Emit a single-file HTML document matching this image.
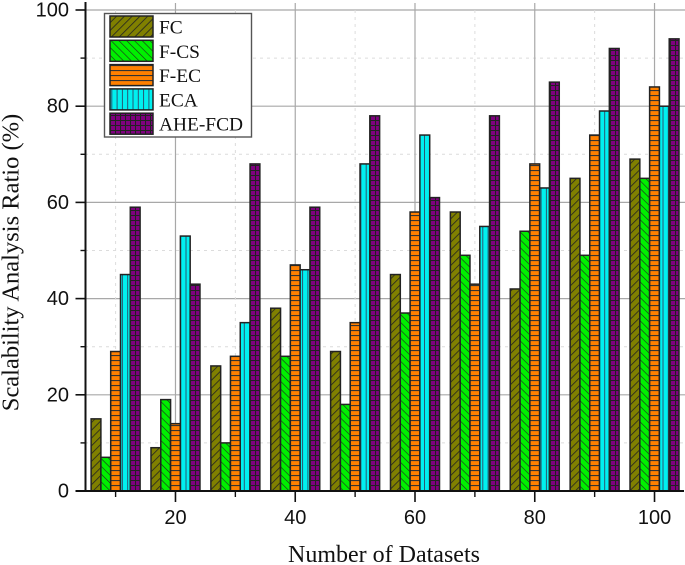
<!DOCTYPE html>
<html>
<head>
<meta charset="utf-8">
<style>
html,body{margin:0;padding:0;background:#fff;width:685px;height:565px;overflow:hidden}
svg{display:block}
</style>
</head>
<body>
<svg id="chart" xmlns="http://www.w3.org/2000/svg" width="685" height="565" viewBox="0 0 685 565">
<defs>
<pattern id="p-fc" patternUnits="userSpaceOnUse" width="5.5" height="5.5" patternTransform="rotate(45)">
<rect width="5.5" height="5.5" fill="#808000"/><line x1="0" y1="0" x2="0" y2="5.5" stroke="#222" stroke-width="1.6"/>
</pattern>
<pattern id="p-cs" patternUnits="userSpaceOnUse" width="5.5" height="5.5" patternTransform="rotate(-45)">
<rect width="5.5" height="5.5" fill="#00f000"/><line x1="0" y1="0" x2="0" y2="5.5" stroke="#222" stroke-width="1.2"/>
</pattern>
<pattern id="p-ec" patternUnits="userSpaceOnUse" width="5" height="5">
<rect width="5" height="5" fill="#ff8000"/><line x1="0" y1="0.5" x2="5" y2="0.5" stroke="#333" stroke-width="1.2"/>
</pattern>
<pattern id="p-eca" patternUnits="userSpaceOnUse" width="5.3" height="6">
<rect width="5.3" height="6" fill="#00f0f0"/><line x1="0.5" y1="0" x2="0.5" y2="6" stroke="#335" stroke-width="0.8"/>
</pattern>
<pattern id="p-ahe" patternUnits="userSpaceOnUse" width="5" height="5">
<rect width="5" height="5" fill="#800080"/><path d="M0 .5H5M.5 0V5" stroke="#222" stroke-width="1.1" fill="none"/>
</pattern>
</defs>
<g id="grid"></g>
<g id="bars"></g>
<g id="axes"></g>
<text transform="translate(18.5,262.5) rotate(-90)" text-anchor="middle" font-family="'Liberation Serif',serif" font-size="24.5" fill="#111">Scalability Analysis Ratio (%)</text>
<text x="384" y="562" text-anchor="middle" font-family="'Liberation Serif',serif" font-size="24" fill="#111">Number of Datasets</text>
<g id="legend">
<rect x="104.5" y="13.5" width="147" height="123.5" fill="#fff" stroke="#555" stroke-width="1.4"/>
</g>
</svg>
<script>
const categories = [10, 20, 30, 40, 50, 60, 70, 80, 90, 100];
const seriesNames = ['FC', 'F-CS', 'F-EC', 'ECA', 'AHE-FCD'];
const fcValues = [15, 9, 26, 38, 29, 45, 58, 42, 65, 69];
const fcsValues = [7, 19, 10, 28, 18, 37, 49, 54, 49, 65];
const fecValues = [29, 14, 28, 47, 35, 58, 43, 68, 74, 84];
const ecaValues = [45, 53, 35, 46, 68, 74, 55, 63, 79, 80];
const aheValues = [59, 43, 68, 59, 78, 61, 78, 85, 92, 94];
const yTicks = [0, 20, 40, 60, 80, 100];
const yMinorTicks = [10, 30, 50, 70, 90];
const xTicks = [20, 40, 60, 80, 100];
const xMinorTicks = [10, 30, 50, 70, 90];

const NS = 'http://www.w3.org/2000/svg';
const allSeries = [fcValues, fcsValues, fecValues, ecaValues, aheValues];
const fills = ['url(#p-fc)', 'url(#p-cs)', 'url(#p-ec)', 'url(#p-eca)', 'url(#p-ahe)'];
const xScale = v => 115.6 + (v - 10) * 5.988;
const yScale = v => 491 - v * 4.81;
const barW = 9.8;
const LEFT = 85, RIGHT = 685, TOP = 3;

function mk(parent, tag, attrs, text) {
  const el = document.createElementNS(NS, tag);
  for (const k in attrs) el.setAttribute(k, attrs[k]);
  if (text !== undefined) el.textContent = text;
  parent.appendChild(el);
  return el;
}

const grid = document.getElementById('grid');
const axes = document.getElementById('axes');
const bars = document.getElementById('bars');
const legend = document.getElementById('legend');

yTicks.forEach(t => {
  if (t === 0) return;
  const el = mk(grid, 'line', {x1: LEFT, x2: RIGHT, y1: yScale(t), y2: yScale(t), stroke: '#a8a8a8', 'stroke-width': 1.2});
  
  
});
yMinorTicks.forEach(t => {
  const el = mk(grid, 'line', {x1: LEFT, x2: RIGHT, y1: yScale(t), y2: yScale(t), stroke: '#dcdcdc', 'stroke-width': 1, 'stroke-dasharray': '3 4'});
  
  
});
xTicks.forEach(t => {
  const el = mk(grid, 'line', {x1: xScale(t), x2: xScale(t), y1: TOP, y2: yScale(0), stroke: '#a8a8a8', 'stroke-width': 1.2});
  
  
});
xMinorTicks.forEach(t => {
  const el = mk(grid, 'line', {x1: xScale(t), x2: xScale(t), y1: yScale(100), y2: yScale(0), stroke: '#dcdcdc', 'stroke-width': 1, 'stroke-dasharray': '3 4'});
  
  
});

categories.forEach((c, i) => {
  allSeries.forEach((vals, s) => {
    const x = xScale(c) + (s - 2.5) * barW;
    const y = yScale(vals[i]);
    const el = mk(bars, 'rect', {x: x, y: y, width: barW, height: yScale(0) - y, fill: fills[s], stroke: '#222', 'stroke-width': 1.5});
    
    
  });
});

const yLine = mk(axes, 'line', {x1: 85.5, x2: 85.5, y1: 2, y2: yScale(0) + 1, stroke: '#111', 'stroke-width': 2});


const xLine = mk(axes, 'line', {x1: 75.5, x2: 684, y1: yScale(0), y2: yScale(0), stroke: '#111', 'stroke-width': 2});



yTicks.forEach(t => {
  const tick = mk(axes, 'line', {x1: 75.5, x2: 85, y1: yScale(t), y2: yScale(t), stroke: '#111', 'stroke-width': 1.6});
  
  
  const lab = mk(axes, 'text', {x: 69, y: yScale(t) + 6.5, 'text-anchor': 'end', 'font-family': "'Liberation Sans',sans-serif", 'font-size': 20, fill: '#111'}, t);
  
  
});
yMinorTicks.forEach(t => {
  const tick = mk(axes, 'line', {x1: 80.5, x2: 85, y1: yScale(t), y2: yScale(t), stroke: '#111', 'stroke-width': 1.4});
  
  
});
xTicks.forEach(t => {
  const tick = mk(axes, 'line', {x1: xScale(t), x2: xScale(t), y1: 491, y2: 502, stroke: '#111', 'stroke-width': 1.6});
  
  
  const lab = mk(axes, 'text', {x: xScale(t), y: 524, 'text-anchor': 'middle', 'font-family': "'Liberation Sans',sans-serif", 'font-size': 20, fill: '#111'}, t);
  
  
});
xMinorTicks.forEach(t => {
  const tick = mk(axes, 'line', {x1: xScale(t), x2: xScale(t), y1: 491, y2: 497, stroke: '#111', 'stroke-width': 1.4});
  
  
});

seriesNames.forEach((name, s) => {
  const y = 16 + s * 24.3;
  const sw = mk(legend, 'rect', {x: 110, y: y, width: 43, height: 21, fill: fills[s], stroke: '#222', 'stroke-width': 1.5});
  
  
  const lab = mk(legend, 'text', {x: 159, y: y + 17.5, 'font-family': "'Liberation Serif',serif", 'font-size': 19.4, fill: '#111'}, name);
  
  
});
</script>
</body>
</html>
